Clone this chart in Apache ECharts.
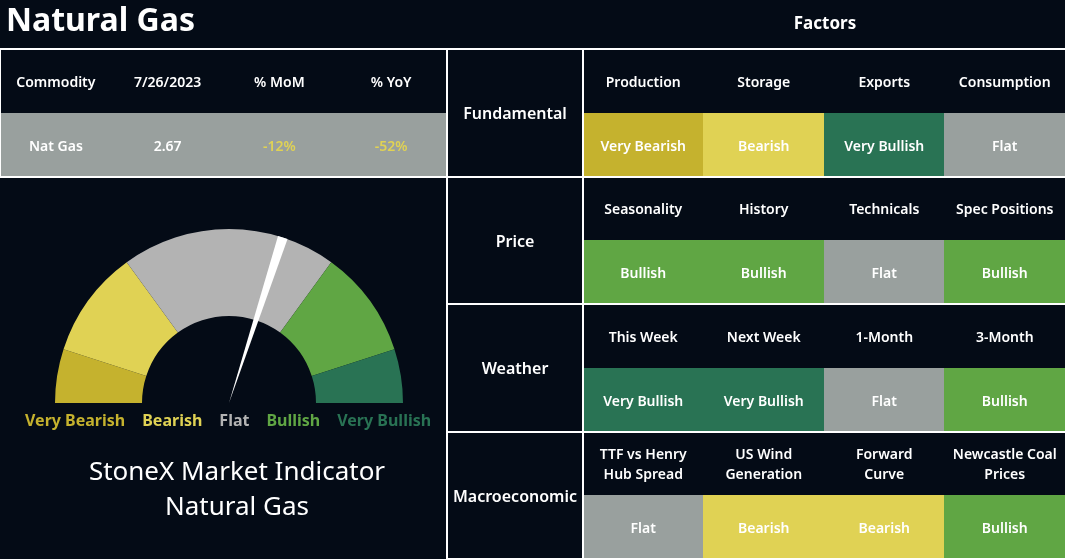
<!DOCTYPE html>
<html>
<head>
<meta charset="utf-8">
<script src="https://cdn.jsdelivr.net/npm/echarts@6/dist/echarts.min.js"></script>
<style>
html,body{margin:0;padding:0;background:#040B16;}
#c{width:1065px;height:559px;}
</style>
</head>
<body>
<div id="c"></div>
<script>
// ---------- data ----------
const pageTitle = 'Natural Gas';
const factorsTitle = 'Factors';
const indicatorTitle = 'StoneX Market Indicator\nNatural Gas';
const tableHeaders = ['Commodity', '7/26/2023', '% MoM', '% YoY'];
const tableValues = ['Nat Gas', '2.67', '-12%', '-52%'];
const factorGroups = ['Fundamental', 'Price', 'Weather', 'Macroeconomic'];
const factorNames = [
  ['Production', 'Storage', 'Exports', 'Consumption'],
  ['Seasonality', 'History', 'Technicals', 'Spec Positions'],
  ['This Week', 'Next Week', '1-Month', '3-Month'],
  ['TTF vs Henry\nHub Spread', 'US Wind\nGeneration', 'Forward\nCurve', 'Newcastle Coal\nPrices']
];
const factorSignals = [
  ['Very Bearish', 'Bearish', 'Very Bullish', 'Flat'],
  ['Bullish', 'Bullish', 'Flat', 'Bullish'],
  ['Very Bullish', 'Very Bullish', 'Flat', 'Bullish'],
  ['Flat', 'Bearish', 'Bearish', 'Bullish']
];
const levels = ['Very Bearish', 'Bearish', 'Flat', 'Bullish', 'Very Bullish'];
const levelSpans = [1, 2, 4, 2, 1];
const indicatorValue = 6;
const indicatorMax = 10;

// ---------- style ----------
const BG = '#040B16';
const FONT = '"Noto Sans", sans-serif';
const gaugeColors = {
  'Very Bearish': '#C5B22E', 'Bearish': '#E0D254', 'Flat': '#B3B3B3',
  'Bullish': '#60A644', 'Very Bullish': '#297354'
};
const cellColors = {
  'Very Bearish': '#C5B22E', 'Bearish': '#E0D254', 'Flat': '#99A09E',
  'Bullish': '#60A644', 'Very Bullish': '#297354'
};
const tableRowColor = '#99A09E';
const negColor = '#E0D254';
const TEXT_DY = 2;

// ---------- cell data built from arrays ----------
const tableCells = tableHeaders.map((h, i) => ({ value: [i, 0] }));
const factorCells = [];
const factorCellInfo = [];
factorGroups.forEach((g, gi) => {
  factorNames[gi].forEach((n, k) => {
    factorCells.push({ value: [k, gi] });
    factorCellInfo.push({ top: n, bottom: factorSignals[gi][k], fill: cellColors[factorSignals[gi][k]] });
  });
});
const groupCells = factorGroups.map((g, gi) => ({ value: [0, gi] }));

function txt(x, y, text, fill, size, weight, lh) {
  return {
    type: 'text', x: x, y: y + TEXT_DY, z2: 5,
    style: {
      text: text, fill: fill, fontSize: size, fontWeight: weight, fontFamily: FONT,
      align: 'center', verticalAlign: 'middle', lineHeight: lh || Math.round(size * 1.4)
    }
  };
}

function splitCellRenderer(info) {
  return function (params, api) {
    const c = api.coord([api.value(0), api.value(1)]);
    const s = api.size([1, 1]);
    const d = info(params.dataIndex);
    const x0 = Math.floor(c[0] - s[0] / 2);
    const x1 = Math.ceil(c[0] + s[0] / 2) + 1;
    return {
      type: 'group',
      children: [
        { type: 'rect', z2: 1, shape: { x: x0, y: Math.round(c[1]), width: x1 - x0, height: Math.round(s[1] / 2) },
          style: { fill: d.fill, stroke: null, lineWidth: 0 } },
        txt(c[0], c[1] - s[1] / 4, d.top, '#FFFFFF', 14, 600, 20),
        txt(c[0], c[1] + s[1] / 4, d.bottom, d.bottomColor || '#FFFFFF', 14, 600, 20)
      ]
    };
  };
}

function hiddenCat(data, gridIndex, extra) {
  return Object.assign({
    type: 'category', data: data, gridIndex: gridIndex, show: true,
    axisLine: { show: false }, axisTick: { show: false }, axisLabel: { show: false },
    splitLine: { show: false }, splitArea: { show: false }
  }, extra || {});
}

const levelSum = levelSpans.reduce((a, b) => a + b, 0);

const option = {
  backgroundColor: BG,
  animation: false,
  title: [
    { text: pageTitle, left: 6, top: 6, padding: 0,
      textStyle: { color: '#FFFFFF', fontSize: 32, fontWeight: 'bold', fontFamily: FONT } },
    { text: factorsTitle, left: 825, top: 16, padding: 0, textAlign: 'center',
      textStyle: { color: '#FFFFFF', fontSize: 17, fontWeight: 'bold', fontFamily: FONT } },
    { text: indicatorTitle, left: 237, top: 455, padding: 0, textAlign: 'center',
      textStyle: { color: '#FFFFFF', fontSize: 26, fontWeight: 'normal', fontFamily: FONT, lineHeight: 35 } }
  ],
  legend: {
    data: levels.map(n => ({ name: n, textStyle: { color: gaugeColors[n] } })),
    left: 20, top: 413, padding: 0, itemWidth: 0, itemHeight: 14, itemGap: 12,
    icon: 'rect', selectedMode: false,
    textStyle: { fontSize: 16, fontWeight: 'bold', fontFamily: FONT }
  },
  grid: [
    { left: -3, top: 49, width: 450, height: 128, show: true, borderColor: '#FFFFFF', borderWidth: 2, backgroundColor: 'transparent', z: 10 },
    { left: 447, top: 49, width: 136, height: 512, show: true, borderColor: '#FFFFFF', borderWidth: 2, backgroundColor: 'transparent', z: 10 },
    { left: 583, top: 49, width: 484, height: 512, show: false }
  ],
  xAxis: [
    hiddenCat(tableHeaders, 0),
    hiddenCat(['group'], 1),
    hiddenCat(factorNames[0], 2)
  ],
  yAxis: [
    hiddenCat(['row'], 0),
    hiddenCat(factorGroups, 1, { inverse: true, z: 10, splitLine: { show: true, interval: 0, lineStyle: { color: '#FFFFFF', width: 2 } } }),
    hiddenCat(factorGroups, 2, { inverse: true, z: 10, splitLine: { show: true, interval: 0, lineStyle: { color: '#FFFFFF', width: 2 } } })
  ],
  series: [
    {
      type: 'pie', center: [229, 403], radius: [87, 174], startAngle: 180, silent: true,
      label: { show: false }, labelLine: { show: false }, emphasis: { disabled: true },
      itemStyle: { borderWidth: 0 },
      data: levels.map((n, i) => ({ name: n, value: levelSpans[i], itemStyle: { color: gaugeColors[n] } }))
        .concat([{ name: 'hidden', value: levelSum, itemStyle: { color: 'transparent' } }])
    },
    {
      type: 'gauge', center: [229, 403], radius: 174, startAngle: 180, endAngle: 0,
      min: 0, max: indicatorMax, silent: true, z: 5,
      axisLine: { show: false }, splitLine: { show: false }, axisTick: { show: false }, axisLabel: { show: false },
      pointer: { icon: 'path://M0,0 L10,0 L5,100 Z', length: '100%', width: 10, offsetCenter: [0, 0], itemStyle: { color: '#FFFFFF' } },
      anchor: { show: false }, title: { show: false }, detail: { show: false },
      data: [{ value: indicatorValue }]
    },
    {
      type: 'custom', xAxisIndex: 0, yAxisIndex: 0, silent: true,
      renderItem: splitCellRenderer(i => ({
        top: tableHeaders[i], bottom: tableValues[i], fill: tableRowColor,
        bottomColor: tableValues[i].charAt(0) === '-' ? negColor : '#FFFFFF'
      })),
      data: tableCells
    },
    {
      type: 'custom', xAxisIndex: 1, yAxisIndex: 1, silent: true,
      renderItem: function (params, api) {
        const c = api.coord([api.value(0), api.value(1)]);
        return txt(c[0], c[1], factorGroups[params.dataIndex], '#FFFFFF', 16, 600, 22);
      },
      data: groupCells
    },
    {
      type: 'custom', xAxisIndex: 2, yAxisIndex: 2, silent: true,
      renderItem: splitCellRenderer(i => factorCellInfo[i]),
      data: factorCells
    }
  ]
};

const chart = echarts.init(document.getElementById('c'), null, { renderer: 'canvas' });
chart.setOption(option);
</script>
</body>
</html>
